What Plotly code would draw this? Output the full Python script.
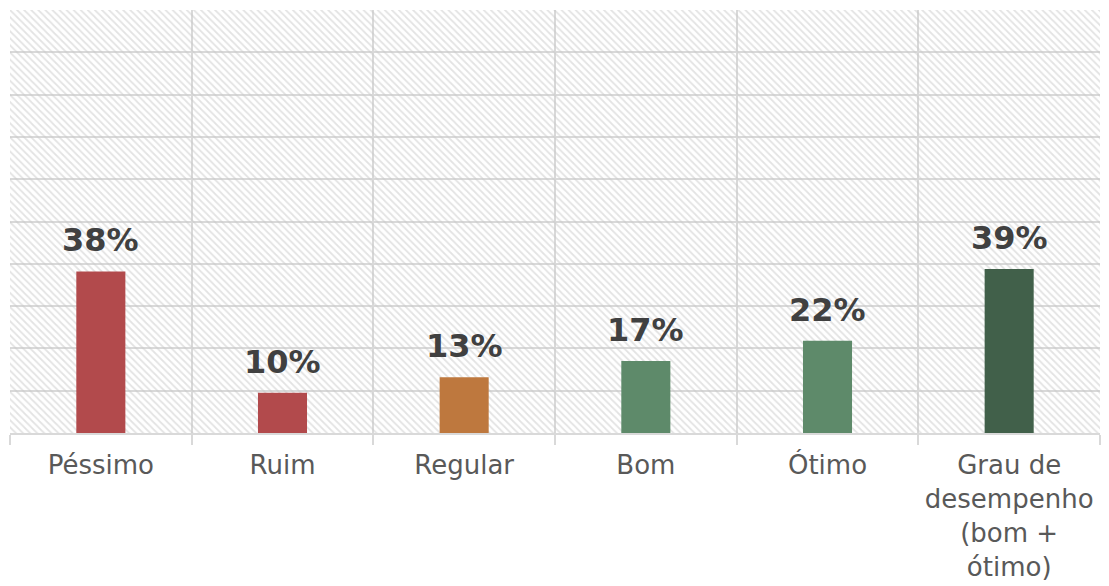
import plotly.graph_objects as go

categorias = ['Péssimo', 'Ruim', 'Regular', 'Bom', 'Ótimo',
              'Grau de<br>desempenho<br>(bom +<br>ótimo)']
valores = [38.2, 9.5, 13.2, 17.0, 21.8, 38.8]
rotulos = ['38%', '10%', '13%', '17%', '22%', '39%']
cores = ['#B24A4C', '#B24A4C', '#BE783E', '#5E8A6A', '#5E8A6A', '#41604A']
escala_max = 100

fig = go.Figure()

# fundo hachurado (transparente, para as linhas de grade aparecerem)
fig.add_trace(go.Bar(x=categorias, y=[escala_max] * len(categorias), width=1,
                     marker=dict(color='rgba(0,0,0,0)', line_width=0,
                                 pattern=dict(shape='\\', fgcolor='#c8c8c8',
                                              bgcolor='rgba(0,0,0,0)',
                                              size=5, solidity=0.35)),
                     hoverinfo='skip', showlegend=False))

fig.add_trace(go.Bar(x=categorias, y=valores, width=0.27,
                     marker=dict(color=cores, line_width=0),
                     showlegend=False))

for cat, v, r in zip(categorias, valores, rotulos):
    fig.add_annotation(x=cat, y=v, text='<b>%s</b>' % r, showarrow=False,
                       yanchor='bottom', yshift=10,
                       font=dict(family='DejaVu Sans', size=32, color='#404040'))

# a página tem 8px de margem no body
fig.update_layout(width=1093, height=578, barmode='overlay',
                  margin=dict(l=2, r=1, t=2, b=153),
                  plot_bgcolor='white', paper_bgcolor='white',
                  font=dict(family='DejaVu Sans', size=26, color='#595959'))

fig.update_xaxes(type='category', tickson='boundaries', showgrid=True,
                 gridcolor='#d9d9d9', gridwidth=2,
                 ticks='outside', ticklen=10, tickcolor='#d9d9d9', tickwidth=2,
                 showline=True, linecolor='#d9d9d9', linewidth=2,
                 ticklabelstandoff=8, automargin=False)
fig.update_yaxes(range=[0, escala_max], dtick=10, showgrid=True,
                 gridcolor='#d9d9d9', gridwidth=2, showticklabels=False,
                 zeroline=False, showline=False, automargin=False)

fig.write_html('out.html')
